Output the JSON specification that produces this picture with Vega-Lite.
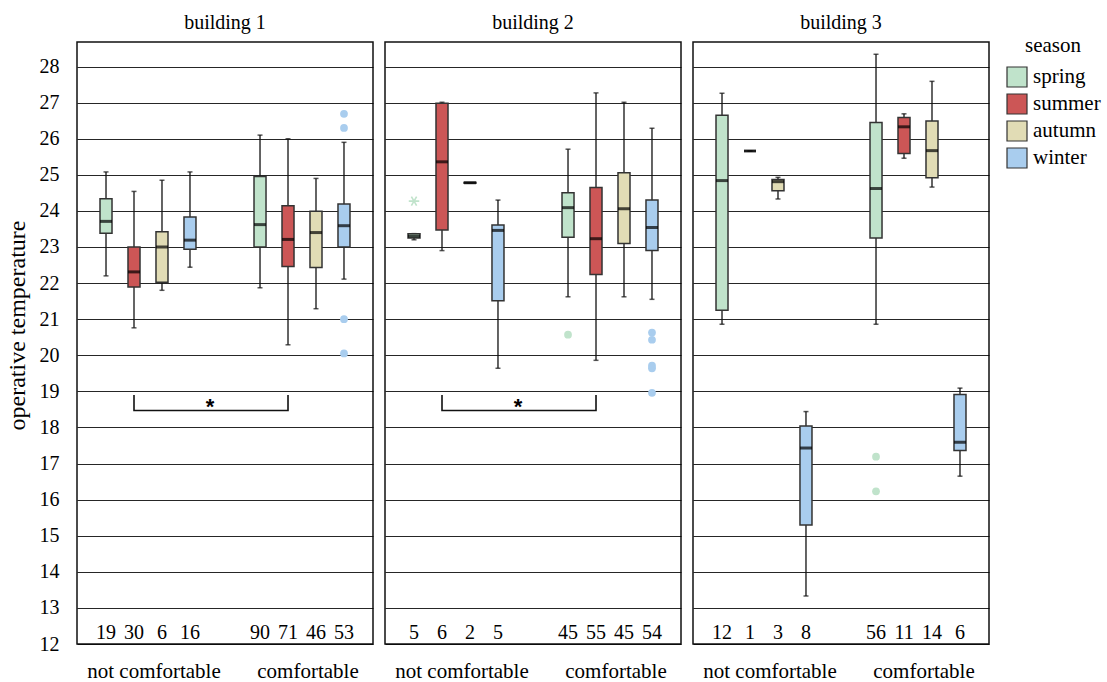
{
  "$schema": "https://vega.github.io/schema/vega-lite/v6.json",
  "background": "white",
  "padding": {"left": 5, "top": 13, "right": 2, "bottom": 2},
  "data": {
    "values": [
      {"kind": "box", "building": "building 1", "comfort": "not comfortable", "season": "spring", "lo": 22.2, "q1": 23.38, "median": 23.71, "q3": 24.34, "hi": 25.08, "n": 19},
      {"kind": "box", "building": "building 1", "comfort": "not comfortable", "season": "summer", "lo": 20.76, "q1": 21.89, "median": 22.31, "q3": 23.0, "hi": 24.54, "n": 30},
      {"kind": "box", "building": "building 1", "comfort": "not comfortable", "season": "autumn", "lo": 21.8, "q1": 22.02, "median": 23.0, "q3": 23.42, "hi": 24.85, "n": 6},
      {"kind": "box", "building": "building 1", "comfort": "not comfortable", "season": "winter", "lo": 22.44, "q1": 22.94, "median": 23.19, "q3": 23.83, "hi": 25.08, "n": 16},
      {"kind": "box", "building": "building 1", "comfort": "comfortable", "season": "spring", "lo": 21.87, "q1": 23.0, "median": 23.62, "q3": 24.95, "hi": 26.1, "n": 90},
      {"kind": "box", "building": "building 1", "comfort": "comfortable", "season": "summer", "lo": 20.29, "q1": 22.46, "median": 23.21, "q3": 24.14, "hi": 26.0, "n": 71},
      {"kind": "box", "building": "building 1", "comfort": "comfortable", "season": "autumn", "lo": 21.29, "q1": 22.43, "median": 23.4, "q3": 23.99, "hi": 24.9, "n": 46},
      {"kind": "box", "building": "building 1", "comfort": "comfortable", "season": "winter", "lo": 22.11, "q1": 23.0, "median": 23.59, "q3": 24.19, "hi": 25.9, "n": 53},
      {"kind": "outlier", "building": "building 1", "comfort": "comfortable", "season": "winter", "value": 26.69},
      {"kind": "outlier", "building": "building 1", "comfort": "comfortable", "season": "winter", "value": 26.3},
      {"kind": "outlier", "building": "building 1", "comfort": "comfortable", "season": "winter", "value": 21.0},
      {"kind": "outlier", "building": "building 1", "comfort": "comfortable", "season": "winter", "value": 20.05},

      {"kind": "box", "building": "building 2", "comfort": "not comfortable", "season": "spring", "lo": 23.2, "q1": 23.25, "median": 23.3, "q3": 23.37, "hi": 23.37, "n": 5},
      {"kind": "box", "building": "building 2", "comfort": "not comfortable", "season": "summer", "lo": 22.9, "q1": 23.47, "median": 25.36, "q3": 26.98, "hi": 27.01, "n": 6},
      {"kind": "box", "building": "building 2", "comfort": "not comfortable", "season": "autumn", "lo": 24.78, "q1": 24.77, "median": 24.78, "q3": 24.79, "hi": 24.78, "n": 2},
      {"kind": "box", "building": "building 2", "comfort": "not comfortable", "season": "winter", "lo": 19.64, "q1": 21.51, "median": 23.46, "q3": 23.61, "hi": 24.3, "n": 5},
      {"kind": "box", "building": "building 2", "comfort": "comfortable", "season": "spring", "lo": 21.62, "q1": 23.27, "median": 24.09, "q3": 24.5, "hi": 25.71, "n": 45},
      {"kind": "box", "building": "building 2", "comfort": "comfortable", "season": "summer", "lo": 19.86, "q1": 22.24, "median": 23.23, "q3": 24.65, "hi": 27.27, "n": 55},
      {"kind": "box", "building": "building 2", "comfort": "comfortable", "season": "autumn", "lo": 21.62, "q1": 23.1, "median": 24.06, "q3": 25.06, "hi": 27.01, "n": 45},
      {"kind": "box", "building": "building 2", "comfort": "comfortable", "season": "winter", "lo": 21.55, "q1": 22.9, "median": 23.54, "q3": 24.3, "hi": 26.29, "n": 54},
      {"kind": "extreme", "building": "building 2", "comfort": "not comfortable", "season": "spring", "value": 24.27},
      {"kind": "outlier", "building": "building 2", "comfort": "comfortable", "season": "spring", "value": 20.57},
      {"kind": "outlier", "building": "building 2", "comfort": "comfortable", "season": "winter", "value": 20.63},
      {"kind": "outlier", "building": "building 2", "comfort": "comfortable", "season": "winter", "value": 20.43},
      {"kind": "outlier", "building": "building 2", "comfort": "comfortable", "season": "winter", "value": 19.71},
      {"kind": "outlier", "building": "building 2", "comfort": "comfortable", "season": "winter", "value": 19.64},
      {"kind": "outlier", "building": "building 2", "comfort": "comfortable", "season": "winter", "value": 18.96},

      {"kind": "box", "building": "building 3", "comfort": "not comfortable", "season": "spring", "lo": 20.86, "q1": 21.25, "median": 24.84, "q3": 26.65, "hi": 27.26, "n": 12},
      {"kind": "box", "building": "building 3", "comfort": "not comfortable", "season": "summer", "lo": 25.66, "q1": 25.66, "median": 25.66, "q3": 25.66, "hi": 25.66, "n": 1},
      {"kind": "box", "building": "building 3", "comfort": "not comfortable", "season": "autumn", "lo": 24.33, "q1": 24.56, "median": 24.81, "q3": 24.87, "hi": 24.93, "n": 3},
      {"kind": "box", "building": "building 3", "comfort": "not comfortable", "season": "winter", "lo": 13.33, "q1": 15.3, "median": 17.43, "q3": 18.04, "hi": 18.44, "n": 8},
      {"kind": "box", "building": "building 3", "comfort": "comfortable", "season": "spring", "lo": 20.86, "q1": 23.25, "median": 24.62, "q3": 26.45, "hi": 28.34, "n": 56},
      {"kind": "box", "building": "building 3", "comfort": "comfortable", "season": "summer", "lo": 25.46, "q1": 25.59, "median": 26.33, "q3": 26.59, "hi": 26.69, "n": 11},
      {"kind": "box", "building": "building 3", "comfort": "comfortable", "season": "autumn", "lo": 24.66, "q1": 24.92, "median": 25.67, "q3": 26.49, "hi": 27.59, "n": 14},
      {"kind": "box", "building": "building 3", "comfort": "comfortable", "season": "winter", "lo": 16.65, "q1": 17.36, "median": 17.59, "q3": 18.91, "hi": 19.09, "n": 6},
      {"kind": "outlier", "building": "building 3", "comfort": "comfortable", "season": "spring", "value": 17.19},
      {"kind": "outlier", "building": "building 3", "comfort": "comfortable", "season": "spring", "value": 16.23},

      {"kind": "bracket", "building": "building 1", "comfort": "not comfortable", "season": "summer", "temp": 18.9, "step": 1},
      {"kind": "bracket", "building": "building 1", "comfort": "not comfortable", "season": "summer", "temp": 18.47, "step": 2},
      {"kind": "bracket", "building": "building 1", "comfort": "comfortable", "season": "summer", "temp": 18.47, "step": 3},
      {"kind": "bracket", "building": "building 1", "comfort": "comfortable", "season": "summer", "temp": 18.9, "step": 4},
      {"kind": "bracket", "building": "building 2", "comfort": "not comfortable", "season": "summer", "temp": 18.9, "step": 1},
      {"kind": "bracket", "building": "building 2", "comfort": "not comfortable", "season": "summer", "temp": 18.47, "step": 2},
      {"kind": "bracket", "building": "building 2", "comfort": "comfortable", "season": "summer", "temp": 18.47, "step": 3},
      {"kind": "bracket", "building": "building 2", "comfort": "comfortable", "season": "summer", "temp": 18.9, "step": 4},
      {"kind": "sig", "building": "building 1", "comfort": "not comfortable", "season": "winter", "label": "*"},
      {"kind": "sig", "building": "building 2", "comfort": "not comfortable", "season": "winter", "label": "*"}
    ]
  },
  "facet": {
    "column": {
      "field": "building",
      "type": "nominal",
      "title": null,
      "header": {"labelFontSize": 20, "labelPadding": 8, "labelColor": "#000", "labelFont": "Liberation Serif"}
    }
  },
  "spacing": 10,
  "spec": {
    "width": 296,
    "height": 602,
    "encoding": {
      "x": {
        "field": "comfort",
        "type": "nominal",
        "title": null,
        "scale": {"domain": ["not comfortable", "comfortable"], "paddingInner": 0.273, "paddingOuter": 0.0975},
        "axis": {"labelAngle": 0, "ticks": false, "domain": false, "grid": false, "labelFontSize": 21, "labelPadding": 15, "labelOffset": 6, "labelColor": "#000"}
      },
      "xOffset": {
        "field": "season",
        "type": "nominal",
        "scale": {"domain": ["spring", "summer", "autumn", "winter"], "paddingInner": 0.571, "paddingOuter": 0.2855}
      }
    },
    "layer": [
      {
        "transform": [{"filter": "datum.kind === 'box'"}],
        "mark": {"type": "rule", "color": "#111", "strokeWidth": 1.3},
        "encoding": {
          "y": {
            "field": "lo",
            "type": "quantitative",
            "title": "operative temperature",
            "scale": {"domain": [12, 28.68], "nice": false, "zero": false},
            "axis": {"values": [12, 13, 14, 15, 16, 17, 18, 19, 20, 21, 22, 23, 24, 25, 26, 27, 28], "labelOverlap": false, "tickCount": 17, "titleY": 283}
          },
          "y2": {"field": "hi"}
        }
      },
      {
        "transform": [{"filter": "datum.kind === 'box'"}],
        "mark": {"type": "tick", "color": "#111", "thickness": 1.5, "size": 5},
        "encoding": {"y": {"field": "lo", "type": "quantitative"}}
      },
      {
        "transform": [{"filter": "datum.kind === 'box'"}],
        "mark": {"type": "tick", "color": "#111", "thickness": 1.5, "size": 5},
        "encoding": {"y": {"field": "hi", "type": "quantitative"}}
      },
      {
        "transform": [{"filter": "datum.kind === 'box'"}],
        "mark": {"type": "bar", "stroke": "#333", "strokeWidth": 1.5},
        "encoding": {
          "y": {"field": "q1", "type": "quantitative"},
          "y2": {"field": "q3"},
          "fill": {
            "field": "season",
            "type": "nominal",
            "title": "season",
            "scale": {"domain": ["spring", "summer", "autumn", "winter"], "range": ["#c0e3cb", "#cc5656", "#e1dcb5", "#a9cdee"]},
            "legend": {"symbolType": "square", "symbolStrokeColor": "#333", "symbolStrokeWidth": 1.2, "symbolSize": 400, "orient": "none", "legendX": 929, "legendY": -7}
          }
        }
      },
      {
        "transform": [{"filter": "datum.kind === 'box'"}],
        "mark": {"type": "tick", "color": "#000", "thickness": 3, "size": 12},
        "encoding": {"y": {"field": "median", "type": "quantitative"}}
      },
      {
        "transform": [{"filter": "datum.kind === 'outlier'"}],
        "mark": {"type": "point", "shape": "circle", "filled": true, "size": 60, "opacity": 1, "strokeWidth": 0},
        "encoding": {
          "y": {"field": "value", "type": "quantitative"},
          "fill": {"field": "season", "type": "nominal"}
        }
      },
      {
        "transform": [{"filter": "datum.kind === 'extreme'"}],
        "mark": {"type": "point", "shape": "M-1,0H1M-0.5,-0.866L0.5,0.866M-0.5,0.866L0.5,-0.866", "filled": false, "size": 110, "strokeWidth": 1.6, "opacity": 1, "stroke": "#c0e3cb"},
        "encoding": {
          "y": {"field": "value", "type": "quantitative"}
        }
      },
      {
        "transform": [{"filter": "datum.kind === 'box'"}],
        "mark": {"type": "text", "fontSize": 20, "baseline": "middle", "color": "#000"},
        "encoding": {
          "y": {"datum": 12.3, "type": "quantitative"},
          "text": {"field": "n", "type": "quantitative"}
        }
      },
      {
        "transform": [{"filter": "datum.kind === 'bracket'"}],
        "mark": {"type": "line", "color": "#111", "strokeWidth": 1.6, "interpolate": "linear"},
        "encoding": {
          "y": {"field": "temp", "type": "quantitative"},
          "order": {"field": "step", "type": "quantitative"}
        }
      },
      {
        "transform": [{"filter": "datum.kind === 'sig'"}],
        "mark": {"type": "text", "font": "Liberation Sans", "fontWeight": "bold", "fontSize": 22, "baseline": "alphabetic", "dx": 20, "color": "#000"},
        "encoding": {
          "y": {"datum": 18.36, "type": "quantitative"},
          "text": {"field": "label", "type": "nominal"}
        }
      }
    ]
  },
  "config": {
    "font": "Liberation Serif",
    "view": {"stroke": "#111", "strokeWidth": 1.5},
    "axisY": {
      "grid": true,
      "gridColor": "#000",
      "gridWidth": 1,
      "gridOpacity": 0.85,
      "ticks": false,
      "domain": false,
      "tickCount": 17,
      "labelOverlap": false,
      "labelFontSize": 20,
      "labelPadding": 17,
      "labelColor": "#000",
      "titleFontSize": 24,
      "titleFontWeight": "normal",
      "titleColor": "#000",
      "titlePadding": 10
    },
    "legend": {
      "titleFontSize": 21,
      "titleFontWeight": "normal",
      "titleColor": "#000",
      "titleAnchor": "middle",
      "titlePadding": 10,
      "labelFontSize": 21,
      "labelColor": "#000",
      "labelOffset": 5,
      "symbolType": "square",
      "symbolSize": 400,
      "symbolStrokeColor": "#333",
      "symbolStrokeWidth": 1.2,
      "symbolOpacity": 1,
      "rowPadding": 1,
      "offset": 18
    }
  }
}
